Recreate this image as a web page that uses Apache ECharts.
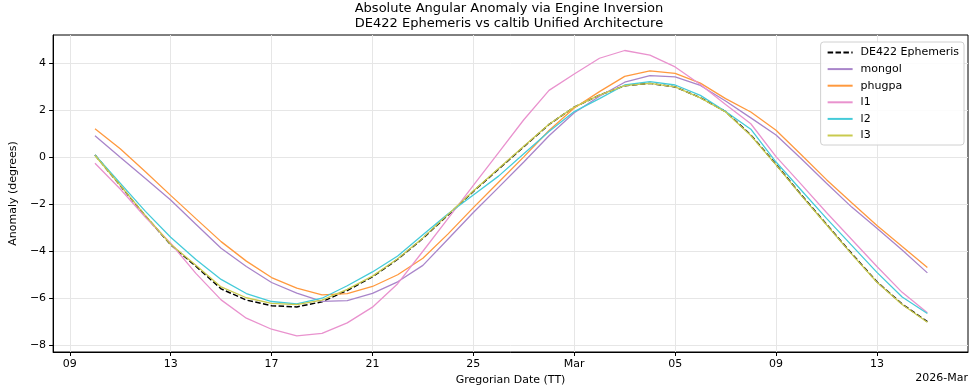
<!DOCTYPE html>
<html><head><meta charset="utf-8">
<script src="https://cdn.jsdelivr.net/npm/echarts@6/dist/echarts.min.js"></script>
<style>html,body{margin:0;padding:0;background:#fff}#c{width:969px;height:392px}</style>
</head><body><div id="c"></div>
<script>
const dates = ['2026-02-10','2026-02-11','2026-02-12','2026-02-13','2026-02-14','2026-02-15','2026-02-16','2026-02-17','2026-02-18','2026-02-19','2026-02-20','2026-02-21','2026-02-22','2026-02-23','2026-02-24','2026-02-25','2026-02-26','2026-02-27','2026-02-28','2026-03-01','2026-03-02','2026-03-03','2026-03-04','2026-03-05','2026-03-06','2026-03-07','2026-03-08','2026-03-09','2026-03-10','2026-03-11','2026-03-12','2026-03-13','2026-03-14','2026-03-15'];
const de422 = [0.10,-1.20,-2.50,-3.72,-4.64,-5.60,-6.08,-6.32,-6.37,-6.15,-5.67,-5.09,-4.34,-3.45,-2.45,-1.45,-0.50,0.45,1.40,2.14,2.65,3.05,3.15,3.00,2.54,1.95,0.95,-0.30,-1.60,-2.85,-4.10,-5.30,-6.25,-7.00];
const mongol = [0.92,0.00,-0.90,-1.82,-2.85,-3.87,-4.65,-5.33,-5.78,-6.13,-6.10,-5.79,-5.30,-4.60,-3.48,-2.35,-1.28,-0.20,0.92,1.90,2.60,3.20,3.48,3.43,3.06,2.40,1.68,0.95,-0.06,-1.10,-2.12,-3.02,-3.95,-4.92];
const phugpa = [1.22,0.37,-0.61,-1.62,-2.61,-3.59,-4.42,-5.12,-5.57,-5.86,-5.80,-5.50,-5.00,-4.30,-3.26,-2.14,-1.06,0.02,1.14,2.10,2.80,3.45,3.68,3.58,3.16,2.50,1.93,1.15,0.11,-0.95,-1.93,-2.90,-3.80,-4.69];
const l1 = [-0.25,-1.35,-2.55,-3.66,-4.94,-6.07,-6.85,-7.32,-7.60,-7.50,-7.05,-6.38,-5.38,-4.00,-2.60,-1.19,0.20,1.60,2.85,3.55,4.22,4.55,4.35,3.85,3.10,2.25,1.43,0.03,-1.15,-2.35,-3.50,-4.65,-5.75,-6.62];
const l2 = [0.10,-1.10,-2.30,-3.40,-4.35,-5.20,-5.80,-6.14,-6.24,-6.00,-5.47,-4.88,-4.20,-3.30,-2.40,-1.60,-0.80,0.15,1.10,1.95,2.50,3.08,3.22,3.08,2.64,1.95,1.20,-0.20,-1.40,-2.60,-3.75,-4.90,-5.95,-6.65];
const l3 = [0.08,-1.19,-2.48,-3.70,-4.60,-5.52,-5.98,-6.22,-6.27,-6.08,-5.62,-5.06,-4.32,-3.43,-2.43,-1.43,-0.48,0.47,1.41,2.14,2.65,3.05,3.15,3.00,2.53,1.93,0.93,-0.32,-1.62,-2.87,-4.12,-5.32,-6.27,-7.02];
const xTickDates = ['2026-02-09','2026-02-13','2026-02-17','2026-02-21','2026-02-25','2026-03-01','2026-03-05','2026-03-09','2026-03-13'];
const xTickLabels = ['09','13','17','21','25','Mar','05','09','13'];
const yTicks = [-8,-6,-4,-2,0,2,4];

const base = Date.UTC(2026,1,9);
const dayOf = s => (Date.parse(s + 'T00:00:00Z') - base) / 86400000;
const xTickVals = xTickDates.map(dayOf);
const pts = vals => dates.map((d,i) => [dayOf(d), vals[i]]);
const FONT = 'DejaVu Sans';
const FS = 11;

const seriesDefs = [
  {name:'DE422 Ephemeris', data:de422, color:'#000000', type:'dashed', width:1.5},
  {name:'mongol', data:mongol, color:'#a985ca', type:'solid', width:1.3},
  {name:'phugpa', data:phugpa, color:'#ff993e', type:'solid', width:1.3},
  {name:'l1', data:l1, color:'#e992ce', type:'solid', width:1.3},
  {name:'l2', data:l2, color:'#45cbd9', type:'solid', width:1.3},
  {name:'l3', data:l3, color:'#c9ca4e', type:'solid', width:1.3}
];

const chart = echarts.init(document.getElementById('c'), null, {renderer:'canvas'});
chart.setOption({
  animation:false,
  backgroundColor:'#fff',
  textStyle:{fontFamily:FONT},
  title:{
    text:'Absolute Angular Anomaly via Engine Inversion\nDE422 Ephemeris vs caltib Unified Architecture',
    left:509, top:1, padding:0, textAlign:'center',
    textStyle:{fontFamily:FONT, fontSize:13, fontWeight:'normal', color:'#000', lineHeight:15}
  },
  legend:{
    show:true,
    orient:'vertical', right:5, top:42,
    padding:[5,5,4,6],
    itemWidth:25, itemHeight:11, itemGap:5.6,
    borderColor:'#d0d0d0', borderWidth:1, borderRadius:3,
    backgroundColor:'rgba(255,255,255,0.85)',
    itemStyle:{opacity:0},
    textStyle:{fontFamily:FONT, fontSize:FS, color:'#000', padding:[0,0,0,3]},
    data: seriesDefs.map(s => s.name)
  },
  grid:{left:50, right:1, top:35, bottom:40, show:true, borderColor:'#000', borderWidth:1, backgroundColor:'transparent'},
  xAxis:{
    type:'value', min:-0.66, max:35.61,
    name:'Gregorian Date (TT)', nameLocation:'middle', nameGap:21,
    nameTextStyle:{fontFamily:FONT, fontSize:FS, color:'#000'},
    axisLine:{show:true, onZero:false, lineStyle:{color:'#000', width:1}},
    axisTick:{show:true, inside:false, length:4, customValues:xTickVals, lineStyle:{color:'#000'}},
    axisLabel:{customValues:xTickVals, margin:7, fontFamily:FONT, fontSize:FS, color:'#000',
      formatter: v => { const i = xTickVals.findIndex(t => Math.abs(t - v) < 1e-6); return i >= 0 ? xTickLabels[i] : ''; }},
    splitLine:{show:true, lineStyle:{color:'#e6e6e6', width:1}}
  },
  yAxis:{
    type:'value', min:-8.29, max:5.21,
    name:'Anomaly (degrees)', nameLocation:'middle', nameGap:30, nameRotate:90,
    nameTextStyle:{fontFamily:FONT, fontSize:FS, color:'#000'},
    axisLine:{show:true, onZero:false, lineStyle:{color:'#000', width:1}},
    axisTick:{show:true, inside:false, length:4, customValues:yTicks, lineStyle:{color:'#000'}},
    axisLabel:{customValues:yTicks, margin:7, fontFamily:FONT, fontSize:FS, color:'#000',
      formatter: v => (v < 0 ? '\u2212' + Math.abs(v) : String(v))},
    splitLine:{show:true, lineStyle:{color:'#e6e6e6', width:1}}
  },
  graphic:[{type:'text', right:1, top:373, style:{text:'2026-Mar', fontFamily:FONT, fontSize:FS, fill:'#000'}}],
  series: seriesDefs.map(s => ({
    name:s.name, type:'line', data:pts(s.data), symbol:'none', showSymbol:false, smooth:false,
    lineStyle:{color:s.color, width:s.width, type: s.type === 'dashed' ? [5.5,2.4] : 'solid'},
    itemStyle:{color:s.color},
    emphasis:{disabled:true}
  }))
});
</script></body></html>
